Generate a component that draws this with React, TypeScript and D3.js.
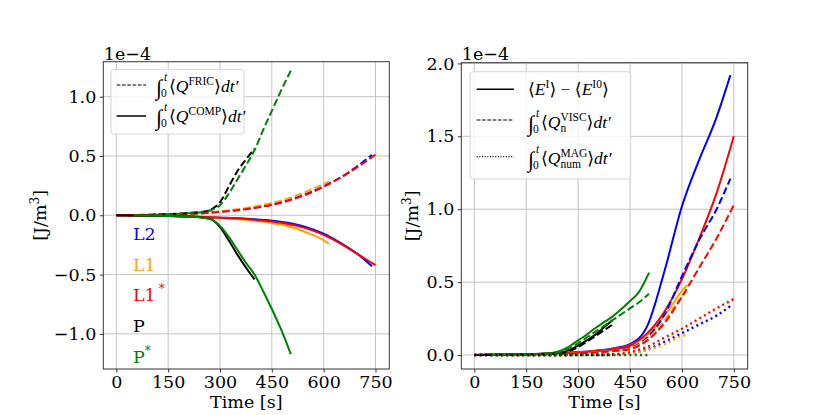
import { useEffect, useRef } from "react";
import * as d3 from "d3";

// time grids [s]
const tL2 = [0, 50, 100, 150, 200, 250, 300, 350, 400, 450, 500, 550, 600, 650, 700, 740];
const tL1 = [0, 50, 100, 150, 200, 250, 300, 350, 400, 450, 500, 550, 600, 615];
const tL1s = [0, 50, 100, 150, 200, 250, 300, 350, 400, 450, 500, 550, 600, 650, 700, 750];
const tP = [0, 50, 100, 150, 200, 250, 275, 300, 325, 350, 375, 400];
const tPs = [50, 100, 150, 200, 250, 275, 300, 325, 350, 375, 400, 425, 450, 475, 505];

// left panel (x 1e-4 J/m^3)
const fricL2 = [0, 0.001, 0.003, 0.006, 0.01, 0.018, 0.03, 0.045, 0.065, 0.09, 0.13, 0.18, 0.245, 0.32, 0.42, 0.51];
const fricL1 = [0, 0.001, 0.003, 0.006, 0.011, 0.02, 0.033, 0.05, 0.075, 0.105, 0.145, 0.2, 0.265, 0.285];
const fricL1s = [0, 0.001, 0.003, 0.006, 0.01, 0.018, 0.028, 0.042, 0.062, 0.088, 0.125, 0.175, 0.24, 0.32, 0.41, 0.51];
const fricP = [0, 0.002, 0.005, 0.01, 0.018, 0.03, 0.05, 0.11, 0.24, 0.37, 0.47, 0.56];
const fricPs = [0, 0.004, 0.009, 0.016, 0.028, 0.045, 0.085, 0.18, 0.3, 0.42, 0.55, 0.72, 0.88, 1.04, 1.22];

const compL2 = [0, -0.001, -0.003, -0.006, -0.01, -0.015, -0.02, -0.025, -0.033, -0.045, -0.065, -0.1, -0.155, -0.235, -0.33, -0.43];
const compL1 = [0, -0.001, -0.003, -0.006, -0.01, -0.016, -0.023, -0.032, -0.045, -0.065, -0.095, -0.145, -0.21, -0.24];
const compL1s = [0, -0.001, -0.003, -0.006, -0.01, -0.015, -0.02, -0.028, -0.038, -0.052, -0.075, -0.11, -0.165, -0.24, -0.33, -0.42];
const compP = [0, -0.001, -0.003, -0.006, -0.01, -0.02, -0.035, -0.1, -0.21, -0.33, -0.44, -0.54];
const compPs = [0, -0.003, -0.006, -0.01, -0.02, -0.035, -0.09, -0.18, -0.29, -0.4, -0.5, -0.64, -0.79, -0.95, -1.17];

// right panel
const energyL2 = [0, 0.002, 0.004, 0.006, 0.009, 0.013, 0.02, 0.03, 0.045, 0.075, 0.2, 0.58, 1.02, 1.34, 1.63, 1.92];
const energyL1 = [0, 0.001, 0.003, 0.005, 0.008, 0.012, 0.018, 0.027, 0.04, 0.065, 0.14, 0.27, 0.44, 0.48];
const energyL1s = [0, 0.001, 0.003, 0.005, 0.008, 0.012, 0.018, 0.027, 0.04, 0.065, 0.15, 0.3, 0.52, 0.8, 1.11, 1.5];
const energyP = [0, 0.001, 0.003, 0.005, 0.008, 0.018, 0.035, 0.065, 0.1, 0.14, 0.19, 0.24];
const energyPs = [0, 0.002, 0.004, 0.008, 0.03, 0.06, 0.1, 0.14, 0.185, 0.225, 0.265, 0.315, 0.37, 0.43, 0.565];

const viscL2 = [0, 0.001, 0.002, 0.004, 0.006, 0.009, 0.014, 0.02, 0.03, 0.05, 0.12, 0.28, 0.54, 0.79, 1.0, 1.21];
const viscL1 = [0, 0.001, 0.002, 0.004, 0.006, 0.009, 0.014, 0.02, 0.028, 0.045, 0.11, 0.24, 0.4, 0.44];
const viscL1s = [0, 0.001, 0.002, 0.004, 0.006, 0.009, 0.013, 0.018, 0.026, 0.04, 0.1, 0.22, 0.4, 0.6, 0.8, 1.03];
const viscP = [0, 0.001, 0.002, 0.004, 0.007, 0.014, 0.028, 0.055, 0.09, 0.13, 0.17, 0.21];
const viscPs = [0, 0.002, 0.004, 0.007, 0.022, 0.045, 0.08, 0.12, 0.16, 0.2, 0.24, 0.28, 0.32, 0.36, 0.42];

const magL2 = [0, 0, 0, 0, 0, 0, 0.001, 0.002, 0.004, 0.012, 0.04, 0.09, 0.15, 0.21, 0.27, 0.336];
const magL1 = [0, 0, 0, 0, 0, 0, 0.001, 0.002, 0.004, 0.012, 0.035, 0.075, 0.13, 0.14];
const magL1s = [0, 0, 0, 0, 0, 0, 0.001, 0.002, 0.005, 0.02, 0.057, 0.12, 0.18, 0.25, 0.32, 0.385];
const magP = [0, 0, 0, 0, 0, 0, 0, 0, 0, 0, 0, 0];
const magPs = [0, 0, 0, 0, 0, 0, 0, 0, 0, 0, 0, 0, 0, 0, 0];

const runNames = ["L2", "L1", "L1", "P", "P"];
const runStars = [false, false, true, false, true];
const runColors = ["#0000ff", "#ffa500", "#ff0000", "#000000", "#008000"];
const runTimes = [tL2, tL1, tL1s, tP, tPs];

const xTicks = [0, 150, 300, 450, 600, 750];
const yTicksLeft = [-1.0, -0.5, 0.0, 0.5, 1.0];
const yTicksRight = [0.0, 0.5, 1.0, 1.5, 2.0];

const dashes: Record<string, string | null> = { solid: null, dashed: "7.4,3.2", dotted: "2,3.3" };

const serif = "'DejaVu Serif', serif";
const mathFont = "'Liberation Serif', 'DejaVu Serif', serif";

export default function App() {
  const ref = useRef<SVGGElement>(null);

  useEffect(() => {
    if (!ref.current) return;
    const root = d3.select(ref.current);
    root.selectAll("*").remove();

    const panels = [
      {
        left: 103.3, right: 389.3, top: 61.7, bottom: 369, labelX: 46,
        yDomain: [-1.296, 1.295], yTicks: yTicksLeft,
        groups: [
          { style: "dashed", values: [fricL2, fricL1, fricL1s, fricP, fricPs] },
          { style: "solid", values: [compL2, compL1, compL1s, compP, compPs] },
        ],
      },
      {
        left: 461.3, right: 747.7, top: 62.7, bottom: 369, labelX: 418,
        yDomain: [-0.096, 2.005], yTicks: yTicksRight,
        groups: [
          { style: "solid", values: [energyL2, energyL1, energyL1s, energyP, energyPs] },
          { style: "dashed", values: [viscL2, viscL1, viscL1s, viscP, viscPs] },
          { style: "dotted", values: [magL2, magL1, magL1s, magP, magPs] },
        ],
      },
    ];

    panels.forEach((p) => {
      const x = d3.scaleLinear().domain([-37.7, 790]).range([p.left, p.right]);
      const y = d3.scaleLinear().domain(p.yDomain).range([p.bottom, p.top]);
      const g = root.append("g");

      // grid
      g.append("g")
        .selectAll("line")
        .data(xTicks)
        .join("line")
        .attr("x1", (d) => x(d)).attr("x2", (d) => x(d))
        .attr("y1", p.top).attr("y2", p.bottom)
        .attr("stroke", "#c4c4c4").attr("stroke-width", 1);
      g.append("g")
        .selectAll("line")
        .data(p.yTicks)
        .join("line")
        .attr("y1", (d) => y(d)).attr("y2", (d) => y(d))
        .attr("x1", p.left).attr("x2", p.right)
        .attr("stroke", "#c4c4c4").attr("stroke-width", 1);

      // curves
      const curves = g.append("g");
      p.groups.forEach((grp) => {
        grp.values.forEach((vals, i) => {
          const pts = runTimes[i].map((t, k) => [t, vals[k]] as [number, number]);
          const line = d3.line<[number, number]>()
            .x((d) => x(d[0]))
            .y((d) => y(d[1]))
            .curve(d3.curveMonotoneX);
          const path = curves.append("path")
            .attr("d", line(pts))
            .attr("fill", "none")
            .attr("stroke", runColors[i])
            .attr("stroke-width", grp.style === "dotted" ? 2.4 : 2);
          const da = dashes[grp.style];
          if (da) path.attr("stroke-dasharray", da);
        });
      });

      // spines
      g.append("rect")
        .attr("x", p.left).attr("y", p.top)
        .attr("width", p.right - p.left).attr("height", p.bottom - p.top)
        .attr("fill", "none").attr("stroke", "#333").attr("stroke-width", 1);

      const fmt = d3.format(".1f");
      const ax = g.append("g")
        .attr("transform", `translate(0,${p.bottom})`)
        .call(d3.axisBottom(x).tickValues(xTicks).tickSize(3.5).tickPadding(3.5).tickFormat(d3.format("d")));
      const ay = g.append("g")
        .attr("transform", `translate(${p.left},0)`)
        .call(d3.axisLeft(y).tickValues(p.yTicks).tickSize(3.5).tickPadding(3.5).tickFormat((d) => fmt(d as number)));
      [ax, ay].forEach((a) => {
        a.select(".domain").remove();
        a.selectAll("line").attr("stroke", "#333");
        a.selectAll("text")
          .attr("fill", "#000")
          .style("font-family", serif)
          .style("font-size", "17.5px");
      });

      // offset text, axis labels
      g.append("text")
        .attr("x", p.left + 0.5).attr("y", 59.5)
        .style("font-family", serif).style("font-size", "17.5px")
        .text("1e\u22124");
      g.append("text")
        .attr("x", (p.left + p.right) / 2).attr("y", 408)
        .attr("text-anchor", "middle")
        .style("font-family", serif).style("font-size", "17.5px")
        .text("Time [s]");
      const yl = g.append("text")
        .attr("text-anchor", "middle")
        .attr("transform", `translate(${p.labelX},${(p.top + p.bottom) / 2}) rotate(-90)`)
        .style("font-family", serif).style("font-size", "17.5px");
      yl.append("tspan").text("[J/m");
      yl.append("tspan").attr("dy", -7).style("font-size", "12px").text("3");
      yl.append("tspan").attr("dy", 7).text("]");
    });

    // run labels in left panel
    const lab = root.append("g");
    runNames.forEach((name, i) => {
      const t = lab.append("text")
        .attr("x", 133).attr("y", 240 + i * 30.7)
        .attr("fill", runColors[i])
        .style("font-family", serif).style("font-size", "17.5px");
      t.append("tspan").text(name);
      if (runStars[i]) t.append("tspan").attr("dx", name === "L1" ? 3 : 0).attr("dy", -8).style("font-size", "12px").text("*");
    });
  }, []);

  const sub = 11.5;
  return (
    <div style={{ position: "absolute", left: 0, top: 0 }}>
      <svg width={830} height={415} style={{ display: "block", background: "#fff" }}>
        <g ref={ref}></g>

        {/* left legend */}
        <rect x={111} y={69.3} width={133} height={64.7} rx={3} fill="#fff" fillOpacity={0.8} stroke="#d6d6d6" />
        <line x1={116.7} x2={146} y1={85} y2={85} stroke="#000" strokeWidth={1.2} strokeDasharray="3.7,1.6" />
        <line x1={116.7} x2={146} y1={116} y2={116} stroke="#000" strokeWidth={1.5} />
        {[{ y: 92, sup: "FRIC" }, { y: 122, sup: "COMP" }].map((r) => (
          <g key={r.sup} fontFamily={mathFont} fill="#000">
            <text x={156} y={r.y + 3} fontSize={22}>∫</text>
            <text x={161} y={r.y + 5} fontSize={sub}>0</text>
            <text x={164} y={r.y - 11} fontSize={sub} fontStyle="italic">t</text>
            <text x={169} y={r.y} fontSize={17.5}>
              ⟨<tspan fontStyle="italic">Q</tspan>
              <tspan fontSize={sub} dy={-7}>{r.sup}</tspan>
              <tspan dy={7}>⟩</tspan>
              <tspan fontStyle="italic">dt′</tspan>
            </text>
          </g>
        ))}

        {/* right legend */}
        <rect x={470} y={71.7} width={160.7} height={107.3} rx={3} fill="#fff" fillOpacity={0.8} stroke="#d6d6d6" />
        <line x1={476.7} x2={514} y1={89.3} y2={89.3} stroke="#000" strokeWidth={1.5} />
        <line x1={476.7} x2={514} y1={120} y2={120} stroke="#000" strokeWidth={1.2} strokeDasharray="3.7,1.6" />
        <line x1={476.7} x2={514} y1={156.7} y2={156.7} stroke="#000" strokeWidth={1.2} strokeDasharray="1,1.65" />
        <text x={528} y={94.5} fontFamily={mathFont} fontSize={17.5} fill="#000">
          ⟨<tspan fontStyle="italic">E</tspan>
          <tspan fontSize={sub} dy={-7}>I</tspan>
          <tspan dy={7}>⟩ − ⟨</tspan>
          <tspan fontStyle="italic">E</tspan>
          <tspan fontSize={sub} dy={-7}>I0</tspan>
          <tspan dy={7}>⟩</tspan>
        </text>
        {[{ y: 127.5, sup: "VISC", sb: "n", w: 5.8 }, { y: 164, sup: "MAG", sb: "num", w: 20.5 }].map((r) => (
          <g key={r.sup} fontFamily={mathFont} fill="#000">
            <text x={528} y={r.y + 3} fontSize={22}>∫</text>
            <text x={533} y={r.y + 5} fontSize={sub}>0</text>
            <text x={536} y={r.y - 11} fontSize={sub} fontStyle="italic">t</text>
            <text x={541} y={r.y} fontSize={17.5}>
              ⟨<tspan fontStyle="italic">Q</tspan>
              <tspan fontSize={sub} dy={4}>{r.sb}</tspan>
              <tspan fontSize={sub} dx={-r.w} dy={-11}>{r.sup}</tspan>
              <tspan dy={7}>⟩</tspan>
              <tspan fontStyle="italic">dt′</tspan>
            </text>
          </g>
        ))}
      </svg>
    </div>
  );
}
